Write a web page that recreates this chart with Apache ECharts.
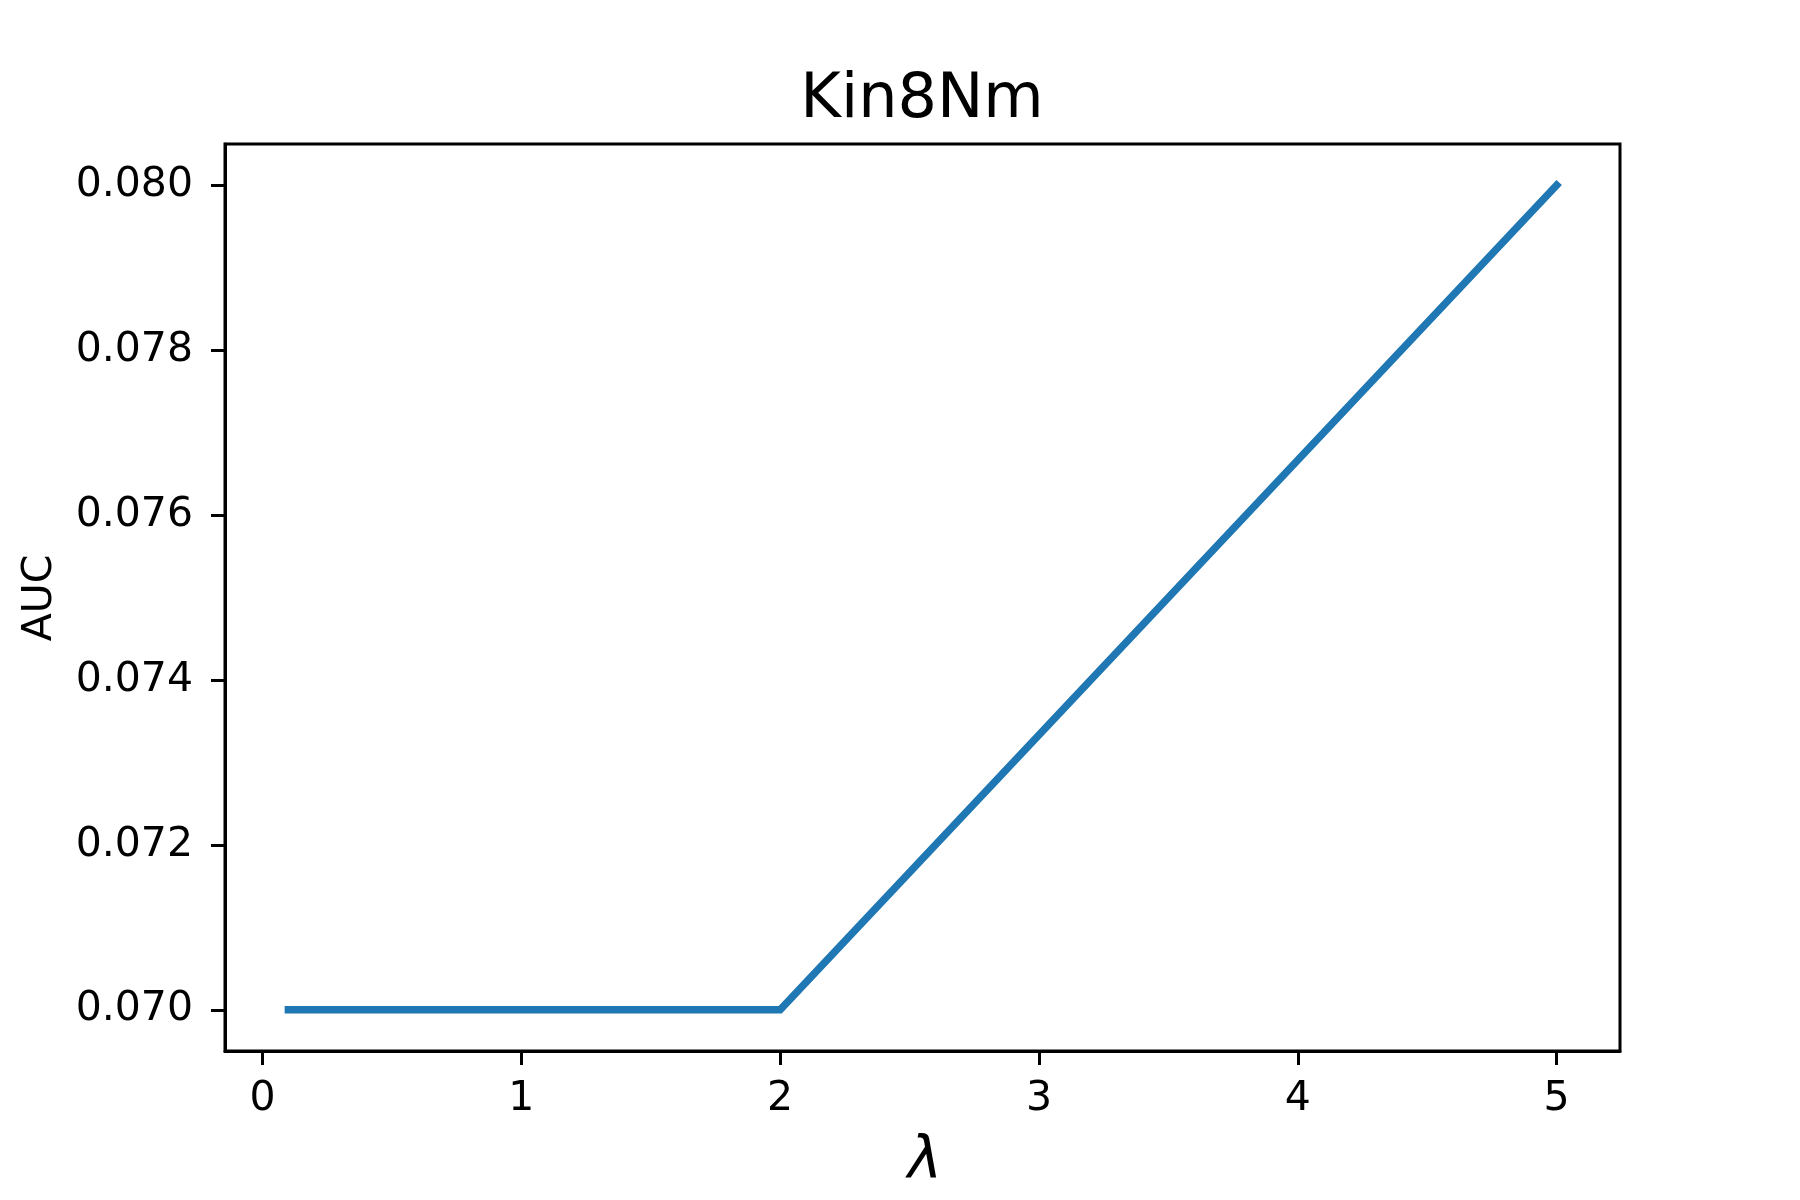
<!DOCTYPE html>
<html>
<head>
<meta charset="utf-8">
<script src="https://cdn.jsdelivr.net/npm/echarts@6/dist/echarts.min.js"></script>
<style>
  html, body { margin: 0; padding: 0; background: #fff; }
  #chart { width: 1800px; height: 1200px; }
</style>
</head>
<body>
<div id="chart"></div>
<script>
  // data
  var lambdaVals = [0.1, 2, 5]
  var aucVals = [0.070, 0.070, 0.080]
  var xTicks = [0, 1, 2, 3, 4, 5]
  var yTicks = [0.070, 0.072, 0.074, 0.076, 0.078, 0.080]

  var font = 'DejaVu Sans'
  var chart = echarts.init(document.getElementById('chart'))

  var points = lambdaVals.map(function (x, i) { return [x, aucVals[i]] })

  chart.setOption({
    animation: false,
    backgroundColor: '#fff',
    title: {
      text: 'Kin8Nm',
      left: 917,
      textAlign: 'center',
      top: 65,
      textStyle: {fontFamily: font, fontSize: 62, fontWeight: 'normal', color: '#000', lineHeight: 62}
    },
    // axis titles placed by hand (v6 pushes axis names past the labels)
    graphic: [
      {
        type: 'text', x: 925, y: 1163,
        style: {
          text: 'λ', fill: '#000',
          font: 'italic 58px "DejaVu Sans"',
          align: 'center', verticalAlign: 'middle',
          textAlign: 'center', textVerticalAlign: 'middle'
        }
      },
      {
        type: 'text', x: 40, y: 598, rotation: Math.PI / 2,
        style: {
          text: 'AUC', fill: '#000',
          font: '41px "DejaVu Sans"',
          align: 'center', verticalAlign: 'middle',
          textAlign: 'center', textVerticalAlign: 'middle'
        }
      }
    ],
    grid: {
      left: 225, right: 180, top: 144, bottom: 149,
      containLabel: false,
      outerBoundsMode: 'none',
      show: true, borderColor: '#000', borderWidth: 3
    },
    xAxis: {
      type: 'value',
      min: -0.145,
      max: 5.245,
      axisLine: {show: true, onZero: false, lineStyle: {color: '#000', width: 3}},
      axisTick: {show: true, length: 14, customValues: xTicks, lineStyle: {color: '#000', width: 3}},
      axisLabel: {
        customValues: xTicks,
        margin: 28,
        fontFamily: font, fontSize: 41, color: '#000'
      },
      splitLine: {show: false}
    },
    yAxis: {
      type: 'value',
      min: 0.0695,
      max: 0.0805,
      axisLine: {show: true, onZero: false, lineStyle: {color: '#000', width: 3}},
      axisTick: {show: true, length: 14, customValues: yTicks, lineStyle: {color: '#000', width: 3}},
      axisLabel: {
        customValues: yTicks,
        margin: 32,
        fontFamily: font, fontSize: 41, color: '#000',
        formatter: function (v) { return v.toFixed(3) }
      },
      splitLine: {show: false}
    },
    series: [{
      type: 'line',
      data: points,
      showSymbol: false,
      symbol: 'none',
      lineStyle: {color: '#1f77b4', width: 7.5, cap: 'square', join: 'miter'}
    }]
  })
</script>
</body>
</html>
